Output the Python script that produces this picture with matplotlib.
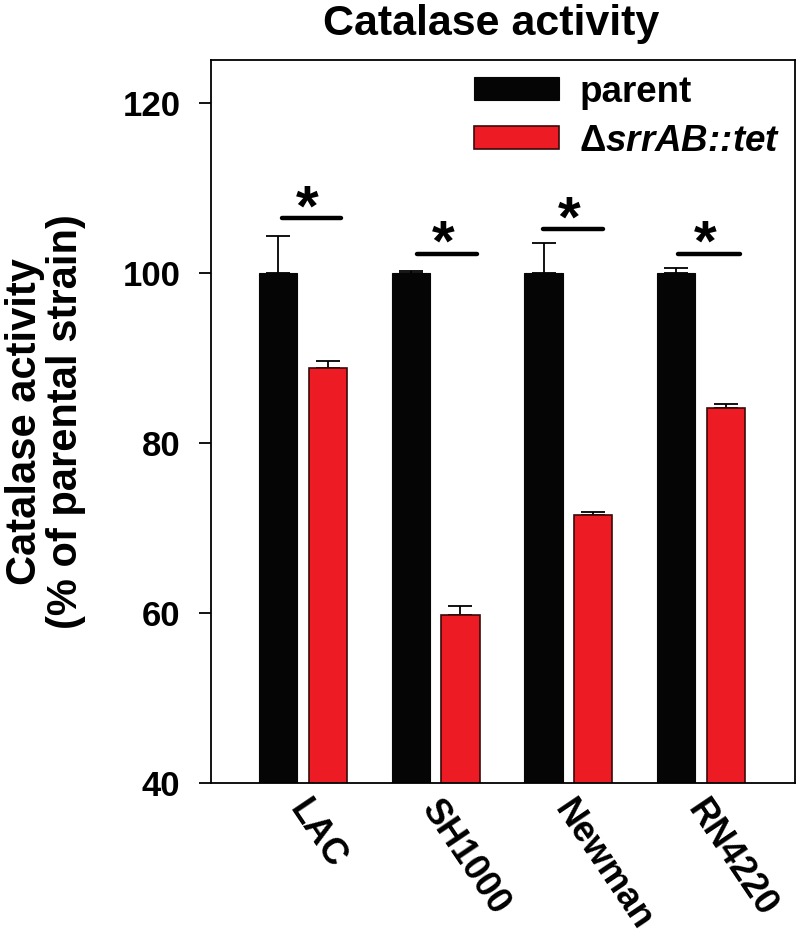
import matplotlib
matplotlib.use("Agg")
import matplotlib.pyplot as plt
import matplotlib.transforms as mtransforms
import numpy as np

plt.rcParams['font.family'] = ['Liberation Sans', 'DejaVu Sans']
plt.rcParams['font.weight'] = 'bold'
plt.rcParams['mathtext.fontset'] = 'custom'
plt.rcParams['mathtext.rm'] = 'Liberation Sans:bold'
plt.rcParams['mathtext.it'] = 'Liberation Sans:italic:bold'

strains = ["LAC", "SH1000", "Newman", "RN4220"]
parent = [100.0, 100.0, 100.0, 100.0]
parent_err = [4.3, 0.2, 3.5, 0.6]
mutant = [88.8, 59.7, 71.5, 84.1]
mutant_err = [0.8, 1.1, 0.4, 0.4]

# significance bars: start, end (relative to group centre), height
sig_start = [-0.16, -0.14, -0.19, -0.17]
sig_end = [0.29, 0.31, 0.26, 0.29]
sig_y = [106.4, 102.2, 105.1, 102.2]

black = "#050505"
red = "#ED1C24"

fig = plt.figure(figsize=(7.97, 9.39), dpi=100)
ax = fig.add_axes([211 / 797, 1 - 783 / 939, 584 / 797, 723 / 939])

x = np.arange(len(strains))
w = 0.29
off = 0.187

ax.bar(x - off, parent, w, color=black, edgecolor=black, linewidth=0.8,
       label="parent", zorder=2)
ax.bar(x + off, mutant, w, color=red, edgecolor="#3a0a0a", linewidth=1.2,
       label=r"$\mathrm{\Delta}$srrAB::tet", zorder=2)

ax.errorbar(x - off, parent, yerr=[np.zeros(4), parent_err], fmt="none",
            ecolor="black", elinewidth=1.3, capsize=8.5, capthick=1.3, zorder=1)
ax.errorbar(x + off, mutant, yerr=[np.zeros(4), mutant_err], fmt="none",
            ecolor="black", elinewidth=1.3, capsize=8.5, capthick=1.3, zorder=1)

for i in range(len(strains)):
    ax.plot([i + sig_start[i], i + sig_end[i]], [sig_y[i], sig_y[i]], color="black",
            lw=3.2, solid_capstyle="round", zorder=3)
    ax.annotate("*", xy=(i + (sig_start[i] + sig_end[i]) / 2 - 0.03, sig_y[i]),
                xytext=(0, -5), textcoords="offset points", ha="center", va="baseline",
                fontsize=42, fontweight="bold")

ax.set_ylim(40, 125)
ax.set_xlim(-0.693, 3.708)
ax.set_yticks([40, 60, 80, 100, 120])
ax.tick_params(axis="y", labelsize=25, length=9, width=1.3, pad=13)
ax.set_xticks(x)
ax.set_xticklabels(strains, rotation=-56, ha="left", va="top",
                   rotation_mode="anchor", fontsize=26)
ax.tick_params(axis="x", length=0, pad=8)
shift = mtransforms.ScaledTranslation(8 / 100, 0, fig.dpi_scale_trans)
for lbl in ax.get_xticklabels():
    lbl.set_transform(lbl.get_transform() + shift)
for s in ax.spines.values():
    s.set_linewidth(1.3)

ax.set_ylabel("Catalase activity\n(% of parental strain)", fontsize=30,
              fontweight="bold", labelpad=26, linespacing=1.05)
ax.set_title("Catalase activity", fontsize=31, fontweight="bold", pad=18, x=0.48)

leg = ax.legend(loc="upper right", frameon=False, fontsize=26.5, handlelength=2.3,
                handleheight=0.6, handletextpad=0.55, labelspacing=0.38,
                borderaxespad=0.0, bbox_to_anchor=(1.0, 1.0))
leg.get_texts()[1].set_fontstyle("italic")

fig.savefig("out.png", dpi=100)
